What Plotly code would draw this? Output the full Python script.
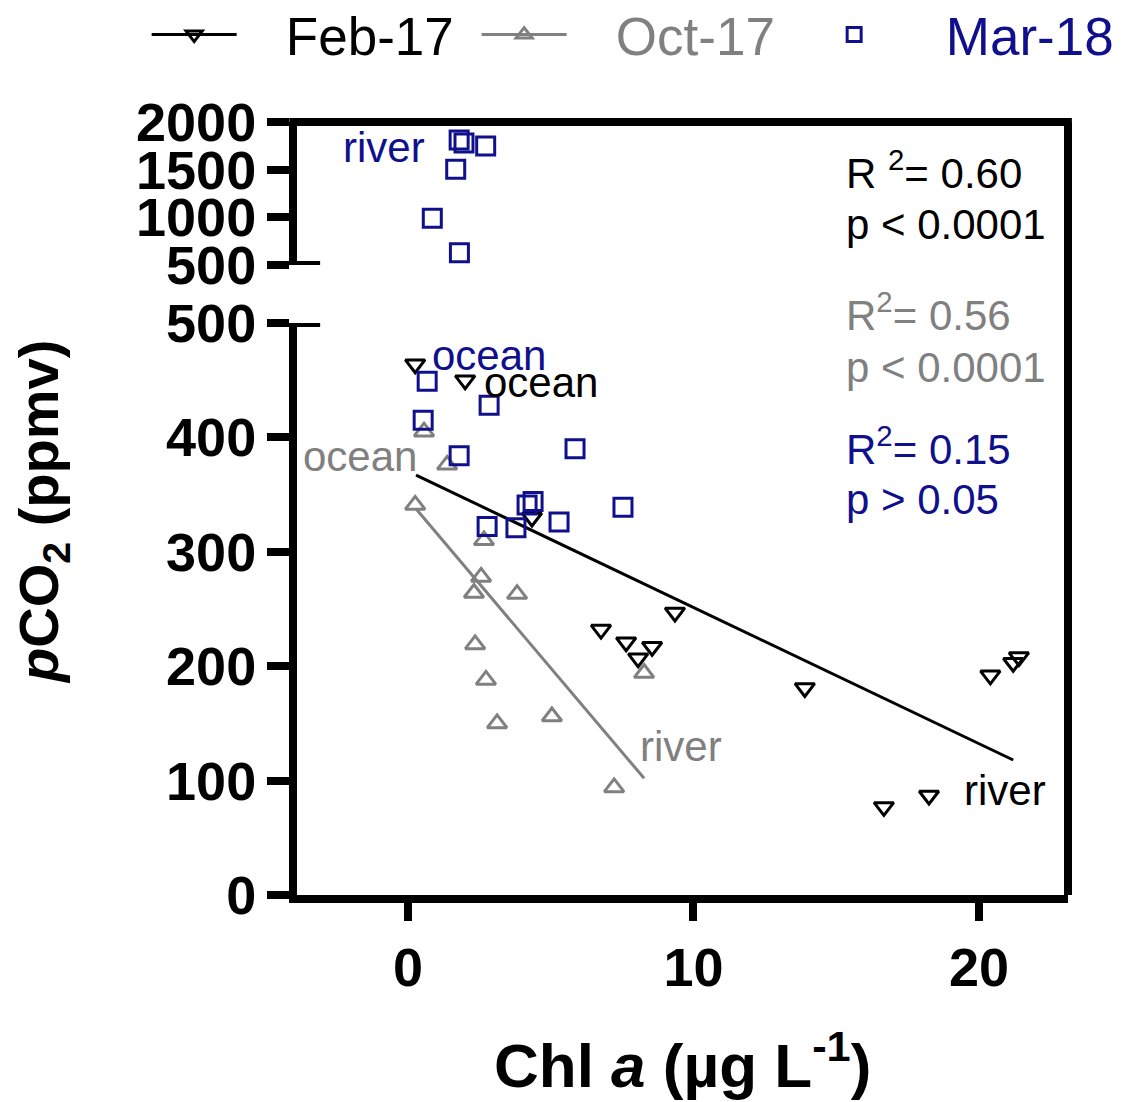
import plotly.graph_objects as go

# ---------------- data ----------------
feb_x = [0.25, 2.0, 4.34, 9.35, 6.76, 7.64, 8.06, 8.55, 13.9, 20.4, 21.2, 21.4, 16.67, 18.25]
feb_y = [464, 450, 330, 247, 232, 221, 207, 217, 181, 192, 203, 208, 77, 87]

oct_x = [0.56, 1.37, 0.25, 2.66, 2.56, 2.31, 3.82, 2.35, 2.73, 3.12, 5.04, 8.27, 7.22]
oct_y = [405, 376, 341, 310, 278, 264, 263, 219, 188, 150, 156, 194, 94]

mar_low_x = [0.67, 2.84, 0.53, 1.79, 5.85, 4.17, 4.38, 5.29, 2.77, 3.78, 7.53]
mar_low_y = [449, 428, 415, 384, 390, 341, 344, 326, 322, 321, 339]
mar_high_x = [1.79, 1.96, 2.72, 1.67, 0.85, 1.80]
mar_high_y = [1812, 1780, 1749, 1504, 990, 629]

feb_fit_x = [0.28, 21.2]
feb_fit_y = [367, 118]
oct_fit_x = [0.3, 8.27]
oct_fit_y = [337, 102]

x_ticks = [0, 10, 20]
y_low_ticks = [0, 100, 200, 300, 400, 500]
y_high_ticks = [500, 1000, 1500, 2000]

BLACK = "#000000"
GRAY = "#808080"
NAVY = "#10108c"
FONT = "Liberation Sans, Arial, sans-serif"
PAD = "&nbsp;&nbsp;&nbsp;"

fig = go.Figure()

# legend proxies
fig.add_trace(go.Scatter(x=[None], y=[None], mode="lines+markers",
                         name=PAD + "<span style='color:%s'>Feb-17</span>" % BLACK,
                         line=dict(color=BLACK, width=3),
                         marker=dict(symbol="triangle-down-open", size=14, color=BLACK,
                                     line=dict(color=BLACK, width=3))))
fig.add_trace(go.Scatter(x=[None], y=[None], mode="lines+markers",
                         name=PAD + "<span style='color:%s'>Oct-17</span>" % GRAY,
                         line=dict(color=GRAY, width=3),
                         marker=dict(symbol="triangle-up-open", size=14, color=GRAY,
                                     line=dict(color=GRAY, width=3))))
fig.add_trace(go.Scatter(x=[None], y=[None], mode="markers",
                         name=PAD + "<span style='color:%s'>Mar-18</span>" % NAVY,
                         marker=dict(symbol="square-open", size=14, color=NAVY,
                                     line=dict(color=NAVY, width=3))))

# fit lines
fig.add_trace(go.Scatter(x=feb_fit_x, y=feb_fit_y, mode="lines", showlegend=False,
                         line=dict(color=BLACK, width=3), xaxis="x", yaxis="y"))
fig.add_trace(go.Scatter(x=oct_fit_x, y=oct_fit_y, mode="lines", showlegend=False,
                         line=dict(color=GRAY, width=3), xaxis="x", yaxis="y"))

# data
fig.add_trace(go.Scatter(x=oct_x, y=oct_y, mode="markers", showlegend=False,
                         marker=dict(symbol="triangle-up-open", size=17, color=GRAY,
                                     line=dict(color=GRAY, width=3))))
fig.add_trace(go.Scatter(x=feb_x, y=feb_y, mode="markers", showlegend=False,
                         marker=dict(symbol="triangle-down-open", size=17, color=BLACK,
                                     line=dict(color=BLACK, width=3))))
fig.add_trace(go.Scatter(x=mar_low_x, y=mar_low_y, mode="markers", showlegend=False,
                         marker=dict(symbol="square-open", size=18, color=NAVY,
                                     line=dict(color=NAVY, width=3))))
fig.add_trace(go.Scatter(x=mar_high_x, y=mar_high_y, mode="markers", showlegend=False,
                         xaxis="x", yaxis="y2",
                         marker=dict(symbol="square-open", size=18, color=NAVY,
                                     line=dict(color=NAVY, width=3))))

tickfont = dict(family=FONT, size=54, color=BLACK, weight="bold")
axis_common = dict(showgrid=False, zeroline=False, showline=True, linecolor=BLACK,
                   linewidth=8, ticks="outside", tickcolor=BLACK, tickwidth=8,
                   tickfont=tickfont)

# the page body adds an 8px offset, so the figure is 8px smaller each way
fig.update_layout(
    width=1120, height=1094,
    margin=dict(l=289, r=60, t=114, b=207, autoexpand=False),
    paper_bgcolor="white", plot_bgcolor="white",
    font=dict(family=FONT, color=BLACK),
    xaxis=dict(range=[-3.89, 23.12], tickvals=x_ticks, ticklen=18,
               ticklabelstandoff=0, anchor="y", **axis_common),
    yaxis=dict(domain=[0, 0.74], range=[0, 500], tickvals=y_low_ticks, ticklen=22,
               anchor="x", **axis_common),
    yaxis2=dict(domain=[0.815, 1], range=[500, 2000], tickvals=y_high_ticks, ticklen=22,
                anchor="x", **axis_common),
    legend=dict(orientation="h", x=-0.195, xanchor="left", y=1.113, yanchor="middle",
                font=dict(family=FONT, size=53), itemwidth=85,
                entrywidth=230, entrywidthmode="pixels",
                bgcolor="rgba(0,0,0,0)"),
    showlegend=True,
)

# frame: top and right lines, break caps
fig.add_shape(type="line", xref="paper", yref="paper", x0=-0.01, x1=1.005, y0=1, y1=1,
              line=dict(color=BLACK, width=8))
fig.add_shape(type="line", xref="paper", yref="paper", x0=1, x1=1, y0=0, y1=1,
              line=dict(color=BLACK, width=8))
fig.add_shape(type="line", xref="paper", yref="y2", x0=-0.01, x1=0.03, y0=500, y1=500,
              line=dict(color=BLACK, width=8))
fig.add_shape(type="line", xref="paper", yref="y", x0=-0.01, x1=0.03, y0=500, y1=500,
              line=dict(color=BLACK, width=8))

ann_font = lambda c: dict(family=FONT, size=42, color=c)
labels = [
    ("river", -0.84, 1728, "y2", NAVY),
    ("ocean", 2.84, 472, "y", NAVY),
    ("ocean", 4.66, 448, "y", BLACK),
    ("ocean", -1.68, 383, "y", GRAY),
    ("river", 9.56, 130, "y", GRAY),
    ("river", 20.9, 91, "y", BLACK),
]
for t, x, y, yr, c in labels:
    fig.add_annotation(text=t, x=x, y=y, xref="x", yref=yr, showarrow=False,
                       font=ann_font(c), xanchor="center", yanchor="middle")

stats = [
    ("R <sup>2</sup>= 0.60", 0.938, BLACK),
    ("p < 0.0001", 0.867, BLACK),
    ("R<sup>2</sup>= 0.56", 0.754, GRAY),
    ("p < 0.0001", 0.683, GRAY),
    ("R<sup>2</sup>= 0.15", 0.581, NAVY),
    ("p > 0.05", 0.511, NAVY),
]
for t, y, c in stats:
    fig.add_annotation(text=t, x=0.71, y=y, xref="paper", yref="paper", showarrow=False,
                       font=ann_font(c), xanchor="left", yanchor="middle")

# axis titles
fig.add_annotation(text="<b><i>p</i>CO<sub>2</sub> (ppmv)</b>", x=-0.33, y=0.495,
                   xref="paper", yref="paper", showarrow=False, textangle=-90,
                   font=dict(family=FONT, size=56, color=BLACK),
                   xanchor="center", yanchor="middle")
fig.add_annotation(text="<b>Chl <i>a</i> (\u00b5g L<sup>-1</sup>)</b>", x=0.50, y=-0.215,
                   xref="paper", yref="paper", showarrow=False,
                   font=dict(family=FONT, size=62, color=BLACK),
                   xanchor="center", yanchor="middle")

fig.write_html("out.html")
